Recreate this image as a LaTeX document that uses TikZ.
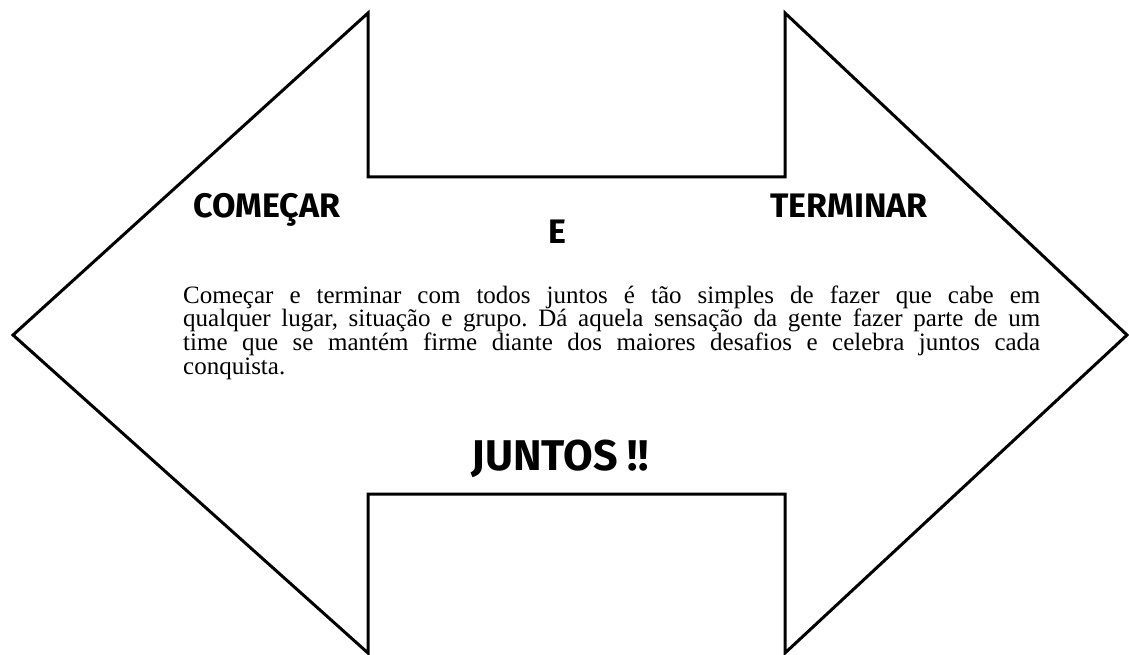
\documentclass[tikz,border=0pt]{standalone}
\usepackage{fontspec}
\setmainfont{Liberation Serif}
\newfontfamily\titlefont{Fira Sans}[BoldFont={Fira Sans Bold}]
\begin{document}
\begin{tikzpicture}[x=1pt,y=-1pt,
  outline/.style={draw=black,line width=3pt,line join=miter},
  title/.style={font=\titlefont\bfseries\fontsize{34}{38}\selectfont,inner sep=0pt},
  body/.style={font=\fontsize{25}{23.8}\selectfont\frenchspacing,inner sep=0pt,text width=857pt,align=justify}]
\useasboundingbox (0,0) rectangle (1129,655);
\fill[white] (0,0) rectangle (1129,655);
\draw[outline] (13,335) -- (368,13) -- (368,177) -- (785,177) -- (785,13) -- (1127,335)
  -- (785,653) -- (785,494) -- (368,494) -- (368,653) -- cycle;
\node[title,anchor=base] (comecar) at (267,217) {COMEÇAR};
\node[title,anchor=base] (terminar) at (849,217) {TERMINAR};
\node[title,anchor=base] (e) at (557,243) {E};
\node[title,anchor=base,font=\titlefont\bfseries\fontsize{43}{47}\selectfont] (juntos) at (560,470) {JUNTOS !!};
\node[body,anchor=base west] (texto) at (183,303) {Começar e terminar com todos juntos é tão simples de fazer que cabe em\linebreak
qualquer lugar, situação e grupo. Dá aquela sensação da gente fazer parte de um\linebreak
time que se mantém firme diante dos maiores desafios e celebra juntos cada\linebreak
conquista.};
\end{tikzpicture}
\end{document}
